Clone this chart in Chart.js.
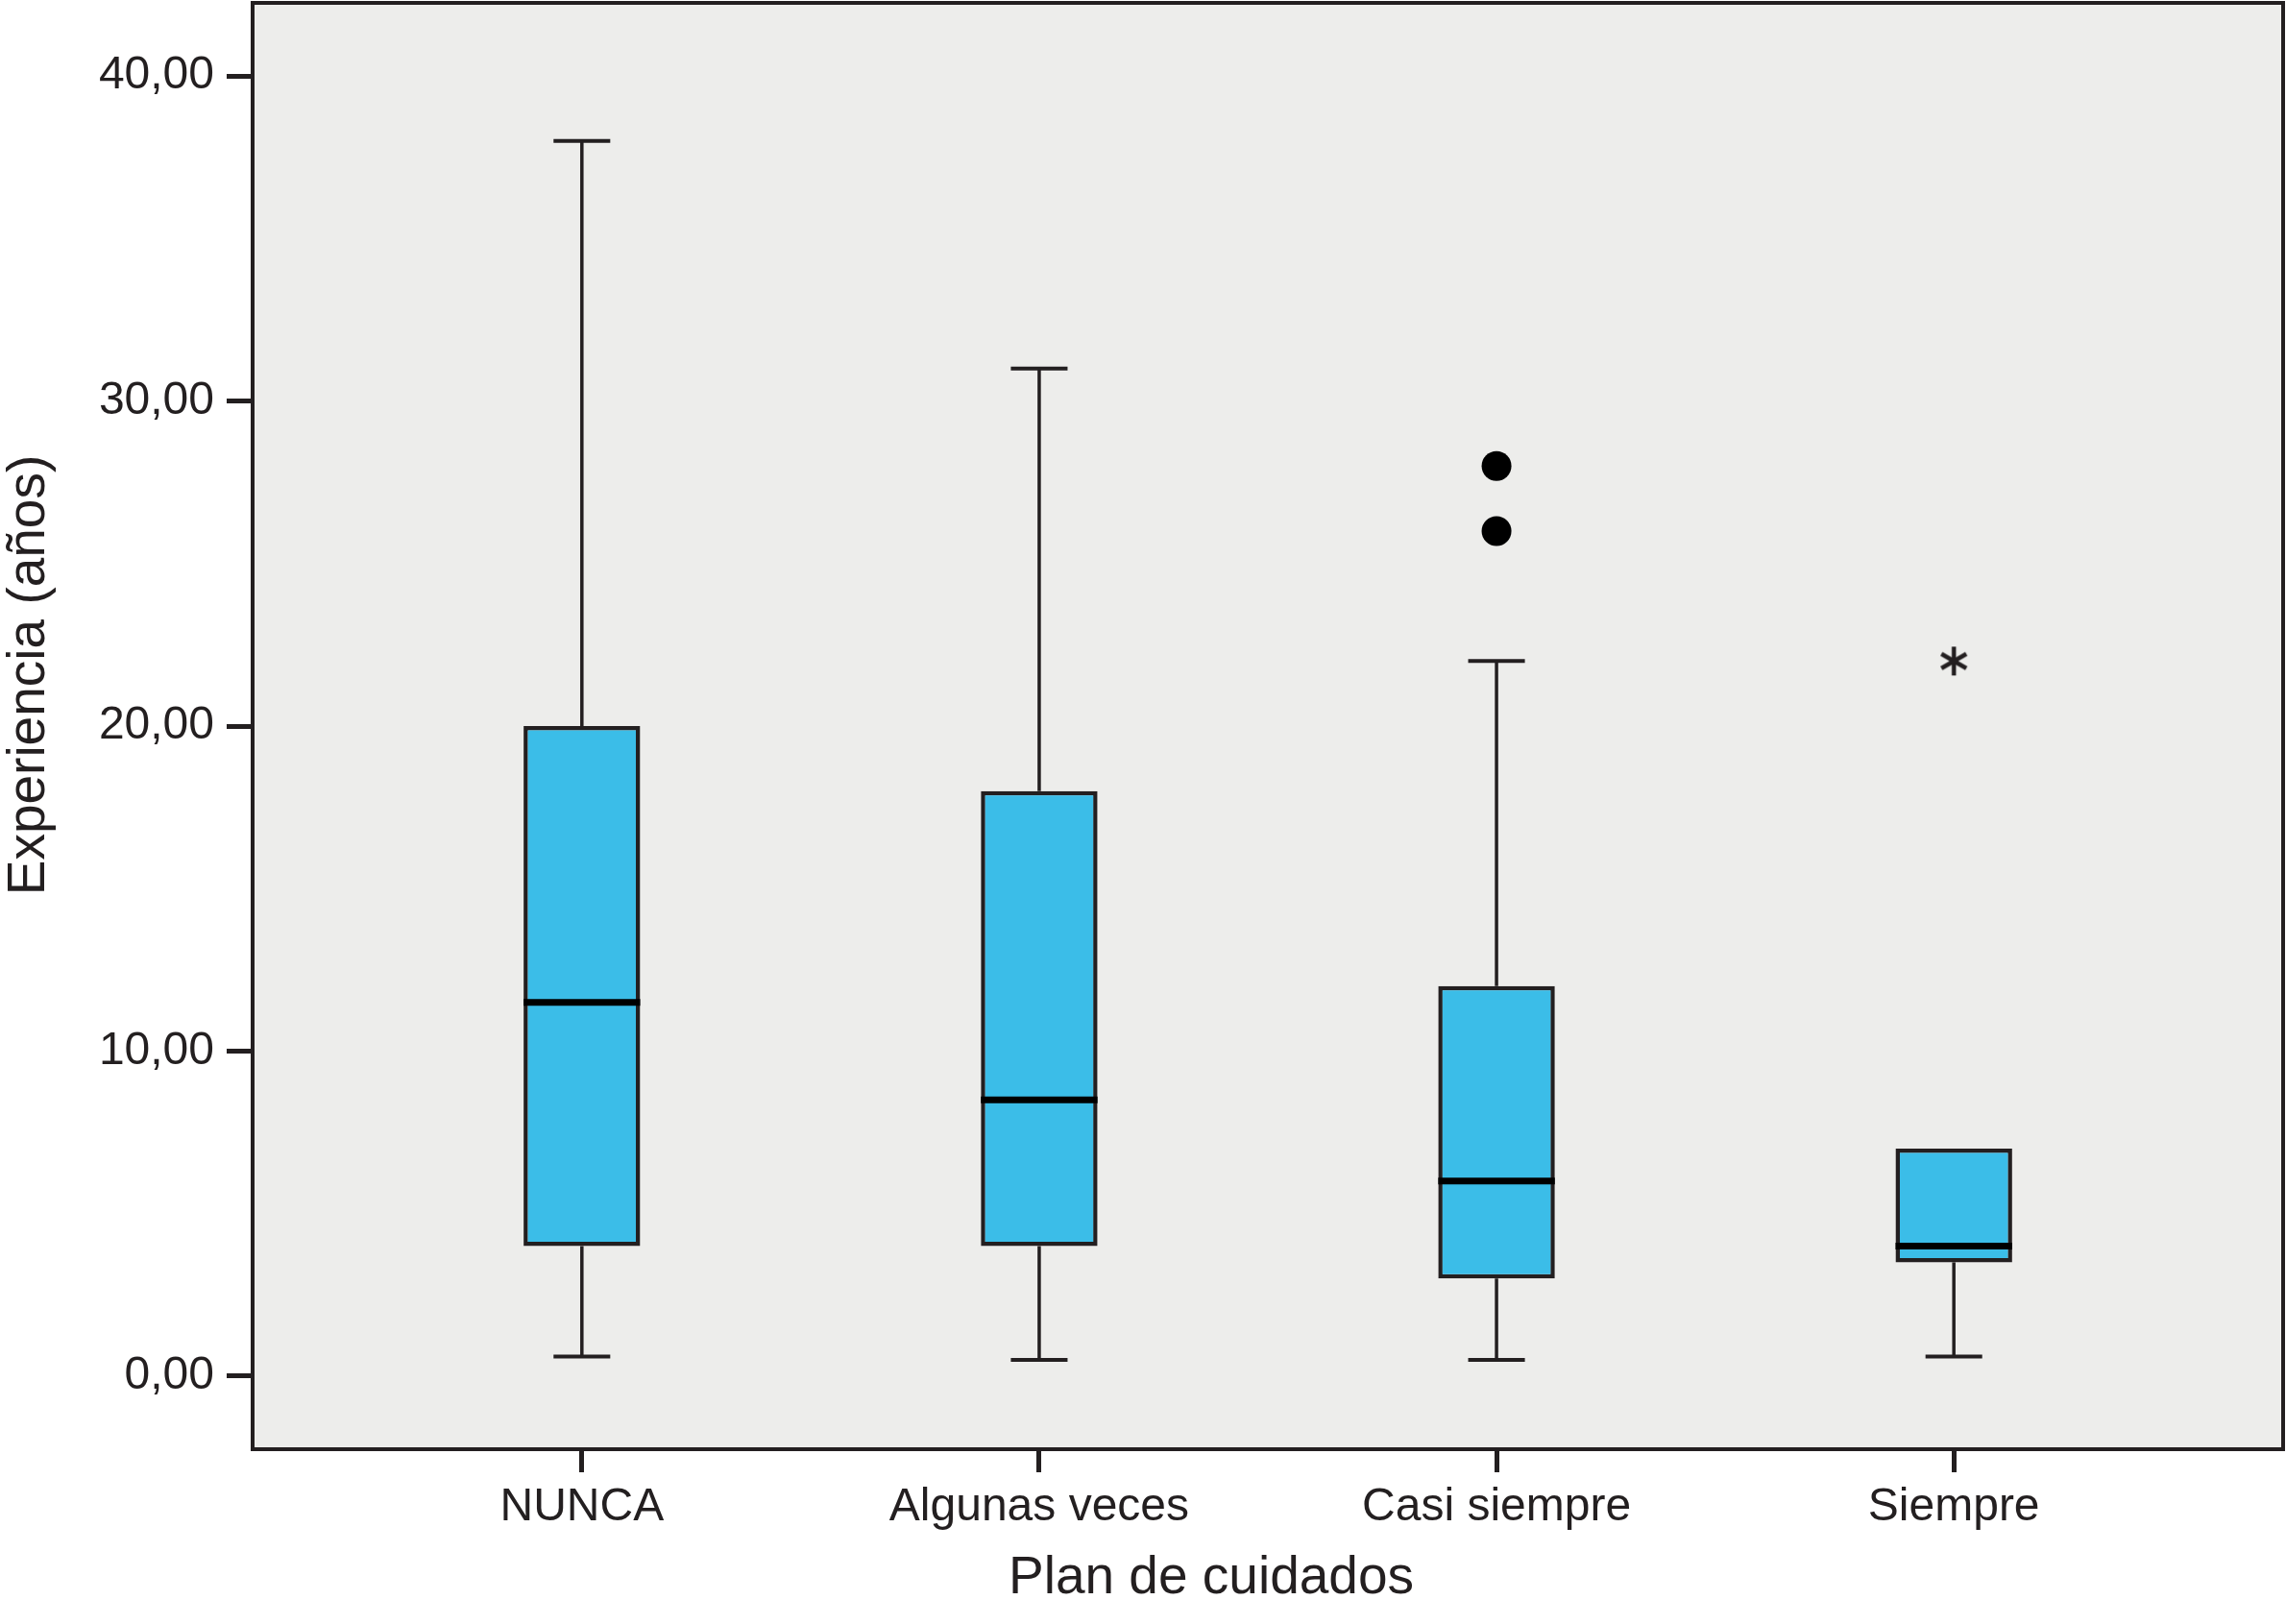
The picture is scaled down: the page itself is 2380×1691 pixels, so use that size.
<!DOCTYPE html>
<html>
<head>
<meta charset="utf-8">
<script src="https://cdn.jsdelivr.net/npm/chart.js@4.4.1/dist/chart.umd.min.js"></script>
<style>
  html, body { margin: 0; padding: 0; background: #fff; }
  canvas { display: block; }
</style>
</head>
<body>
<canvas id="boxChart" width="2380" height="1691"></canvas>
<script>
// ── data ──────────────────────────────────────────────
const categories = ['NUNCA', 'Algunas veces', 'Casi siempre', 'Siempre'];
const whiskerLow = [0.6, 0.5, 0.5, 0.6];
const q1 = [4, 4, 3, 3.5];
const medians = [11.5, 8.5, 6, 4];
const q3 = [20, 18, 12, 7];
const whiskerHigh = [38, 31, 22, 7];
const outliers = [{x: 2, y: 28}, {x: 2, y: 26}];
const extremes = [{x: 3, y: 22}];
const yTicks = [0, 10, 20, 30, 40];
const xTitle = 'Plan de cuidados';
const yTitle = 'Experiencia (años)';

const INK = '#231f20';
const BOX_FILL = '#3bbde8';
const PANEL = '#ededeb';
const FONT = "'Liberation Sans', Arial, sans-serif";

// asterisk marker for extreme values
function makeAsterisk() {
    const c = document.createElement('canvas');
    c.width = 34; c.height = 34;
    const g = c.getContext('2d');
    g.strokeStyle = INK;
    g.lineWidth = 4.5;
    [90, 30, 150].forEach(a => {
        const r = a * Math.PI / 180;
        const dx = Math.cos(r) * 15, dy = Math.sin(r) * 15;
        g.beginPath();
        g.moveTo(17 - dx, 17 - dy);
        g.lineTo(17 + dx, 17 + dy);
        g.stroke();
    });
    return c;
}

// panel background, frame and axis titles
const panelPlugin = {
    id: 'panel',
    beforeDraw(chart) {
        const {ctx, chartArea: a} = chart;
        ctx.save();
        ctx.fillStyle = PANEL;
        ctx.fillRect(a.left, a.top, a.right - a.left, a.bottom - a.top);
        ctx.restore();
    },
    afterDraw(chart) {
        const {ctx, chartArea: a} = chart;
        ctx.save();
        ctx.strokeStyle = INK;
        ctx.lineWidth = 4;
        ctx.strokeRect(a.left, a.top, a.right - a.left, a.bottom - a.top);

        // titles sit a bit off the panel centre, like the original
        ctx.fillStyle = INK;
        ctx.font = '55px ' + FONT;
        ctx.textAlign = 'center';
        ctx.textBaseline = 'middle';
        ctx.fillText(xTitle, (a.left + a.right) / 2 - 59, chart.height - 47);
        ctx.translate(31, (a.top + a.bottom) / 2 - 53);
        ctx.rotate(-Math.PI / 2);
        ctx.fillText(yTitle, 0, 0);
        ctx.restore();
    }
};

// whiskers (under the boxes) and medians (over the boxes)
const CAP_HALF = 0.062;
const boxPlugin = {
    id: 'boxParts',
    beforeDatasetsDraw(chart) {
        const {ctx, scales: {x, y}} = chart;
        ctx.save();
        ctx.strokeStyle = INK;
        categories.forEach((_, i) => {
            const cx = x.getPixelForValue(i);
            const ends = [];
            ctx.lineWidth = 3.5;
            ctx.beginPath();
            if (whiskerHigh[i] > q3[i]) {
                ctx.moveTo(cx, y.getPixelForValue(q3[i]));
                ctx.lineTo(cx, y.getPixelForValue(whiskerHigh[i]));
                ends.push(whiskerHigh[i]);
            }
            if (whiskerLow[i] < q1[i]) {
                ctx.moveTo(cx, y.getPixelForValue(q1[i]));
                ctx.lineTo(cx, y.getPixelForValue(whiskerLow[i]));
                ends.push(whiskerLow[i]);
            }
            ctx.stroke();
            ctx.lineWidth = 4;
            ctx.beginPath();
            ends.forEach(v => {
                const py = y.getPixelForValue(v);
                ctx.moveTo(x.getPixelForValue(i - CAP_HALF), py);
                ctx.lineTo(x.getPixelForValue(i + CAP_HALF), py);
            });
            ctx.stroke();
        });
        ctx.restore();
    },
    afterDatasetsDraw(chart) {
        const {ctx, scales: {y}} = chart;
        const bars = chart.getDatasetMeta(0).data;
        ctx.save();
        ctx.strokeStyle = '#000';
        ctx.lineWidth = 7;
        bars.forEach((bar, i) => {
            const py = y.getPixelForValue(medians[i]);
            ctx.beginPath();
            ctx.moveTo(bar.x - bar.width / 2, py);
            ctx.lineTo(bar.x + bar.width / 2, py);
            ctx.stroke();
        });
        ctx.restore();
    }
};

new Chart(document.getElementById('boxChart'), {
    type: 'bar',
    data: {
        datasets: [
            {
                label: 'Caja',
                data: categories.map((_, i) => ({x: i, y: [q1[i], q3[i]]})),
                backgroundColor: BOX_FILL,
                borderColor: INK,
                borderWidth: 4.5,
                borderSkipped: false,
                categoryPercentage: 1,
                barPercentage: 0.255
            },
            {
                type: 'scatter',
                label: 'Atípicos',
                data: outliers,
                pointStyle: 'circle',
                pointRadius: 15.5,
                backgroundColor: '#000',
                borderWidth: 0
            },
            {
                type: 'scatter',
                label: 'Extremos',
                data: extremes,
                pointStyle: makeAsterisk(),
                pointRadius: 17
            }
        ]
    },
    options: {
        responsive: false,
        devicePixelRatio: 1,
        animation: false,
        layout: {autoPadding: false, padding: {top: 3, right: 3, left: 0, bottom: 0}},
        plugins: {legend: {display: false}, tooltip: {enabled: false}},
        scales: {
            x: {
                type: 'linear',
                offset: false,
                min: -0.72,
                max: 3.72,
                afterBuildTicks: s => { s.ticks = categories.map((_, i) => ({value: i})); },
                afterFit: s => { s.height = 182; s.paddingLeft = 0; s.paddingRight = 0; },
                grid: {offset: false, drawOnChartArea: false, drawTicks: true, tickLength: 24, tickWidth: 5, tickColor: INK},
                border: {display: true, color: INK, width: 4},
                ticks: {
                    color: INK,
                    padding: 8,
                    maxRotation: 0,
                    autoSkip: false,
                    font: {family: FONT, size: 48},
                    callback: v => categories[v]
                },
                title: {display: false}
            },
            y: {
                min: -2.25,
                max: 42.25,
                afterBuildTicks: s => { s.ticks = yTicks.map(v => ({value: v})); },
                afterFit: s => { s.width = 263; s.paddingTop = 0; s.paddingBottom = 0; },
                grid: {drawOnChartArea: false, drawTicks: true, tickLength: 27, tickWidth: 5, tickColor: INK},
                border: {display: true, color: INK, width: 4},
                ticks: {
                    color: INK,
                    padding: 13,
                    font: {family: FONT, size: 48},
                    callback: v => v.toFixed(2).replace('.', ',')
                },
                title: {display: false}
            }
        }
    },
    plugins: [panelPlugin, boxPlugin]
});
</script>
</body>
</html>
